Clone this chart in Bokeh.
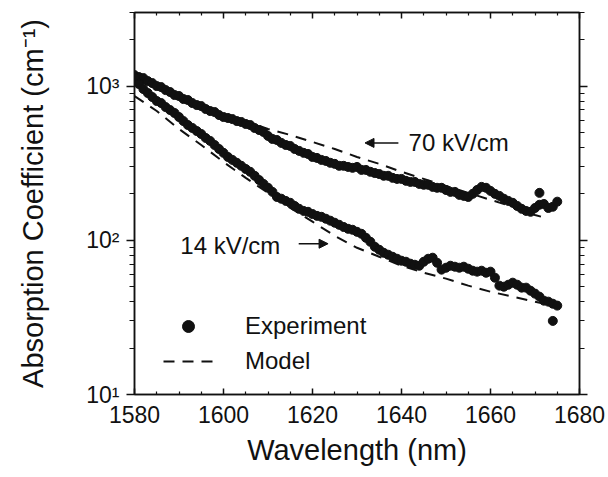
from bokeh.plotting import figure
from bokeh.models import (Range1d, FixedTicker, LinearAxis, LogAxis, Arrow,
                          NormalHead, Legend, LegendItem, Label)
from bokeh.embed import file_html
from bokeh.resources import INLINE

# ---------------- data ----------------
wl_exp = list(range(1580, 1676))

exp_70kv = [1178, 1144, 1127, 1077, 1046, 1000, 985, 942, 915, 875,
            862, 824, 812, 776, 753, 742, 710, 689, 679, 649,
            630, 621, 611, 593, 585, 568, 559, 535, 519, 504,
            475, 454, 447, 428, 415, 409, 391, 380, 369, 363,
            347, 342, 332, 327, 318, 313, 304, 304, 299, 295,
            299, 286, 286, 278, 273, 269, 262, 262, 254, 250,
            250, 243, 239, 239, 232, 229, 229, 222, 219, 219,
            212, 206, 206, 197, 194, 191, 200, 212, 222, 219,
            209, 200, 194, 186, 180, 175, 167, 160, 155, 153,
            162, 170, 172, 162, 165, 178]

exp_14kv = [1144, 1030, 956, 901, 849, 800, 776, 731, 699, 669,
            630, 593, 559, 535, 511, 489, 461, 441, 415, 391,
            369, 347, 332, 318, 304, 290, 278, 262, 246, 232,
            219, 206, 191, 186, 180, 175, 167, 160, 155, 153,
            148, 144, 142, 138, 134, 130, 126, 122, 118.7, 117,
            113.5, 110.2, 103.8, 97.8, 90.8, 86.8, 83.0, 80.6, 78.2, 75.9,
            73.7, 72.6, 70.5, 69.4, 68.4, 72.6, 75.9, 77.1, 71.5, 64.5,
            66.4, 68.4, 67.4, 66.4, 67.4, 65.4, 63.5, 62.6, 63.5, 61.6,
            62.6, 57.2, 50.8, 50.0, 51.5, 53.1, 51.5, 49.3, 49.3, 47.1,
            45.1, 43.1, 40.6, 40.0, 38.8, 37.7]

# isolated outlying experimental points
wl_outlier = [1671, 1674]
outlier_vals = [203, 30]

wl_model = [1580, 1585, 1590, 1595, 1600, 1605, 1610, 1615, 1620, 1625,
            1630, 1635, 1640, 1645, 1650, 1655, 1660, 1665, 1670, 1673]
model_70kv = [1094, 971, 849, 742, 659, 593, 527, 482, 434, 391,
              347, 313, 278, 250, 225, 203, 183, 165, 146, 138]
model_14kv = [862, 689, 527, 415, 322, 254, 203, 162, 132, 106.9,
              89.4, 78.2, 68.4, 61.6, 56.4, 50.8, 46.4, 43.1, 40.0, 38.3]

x_major = [1580, 1600, 1620, 1640, 1660, 1680]
x_minor = [v for v in range(1580, 1681, 5) if v not in x_major]
y_major = [10, 100, 1000]
y_minor = [m * d for d in (10, 100, 1000) for m in range(2, 10) if m * d <= 3000]
y_labels = {10: "10\u00b9", 100: "10\u00b2", 1000: "10\u00b3"}

FONT = "Liberation Sans"
INK = "#111111"

p = figure(width=608, height=477, x_range=Range1d(1580, 1680),
           y_range=Range1d(10, 3000), y_axis_type="log",
           output_backend="svg", toolbar_location=None,
           min_border_left=134, min_border_right=29,
           min_border_top=12, min_border_bottom=83)

p.grid.visible = False
p.outline_line_color = INK
p.outline_line_width = 1.5
p.background_fill_color = "white"
p.border_fill_color = "white"

# bottom axis
xa = p.xaxis[0]
xa.ticker = FixedTicker(ticks=x_major, minor_ticks=x_minor)
xa.major_tick_in = 6
xa.major_tick_out = 0
xa.minor_tick_in = 3
xa.minor_tick_out = 0
xa.axis_label = "Wavelength (nm)"
xa.major_label_standoff = 11
xa.axis_label_standoff = 8

# left axis
ya = p.yaxis[0]
ya.ticker = FixedTicker(ticks=y_major, minor_ticks=y_minor)
ya.major_tick_in = 0
ya.major_tick_out = 8
ya.minor_tick_in = 0
ya.minor_tick_out = 5
ya.major_label_overrides = y_labels
ya.axis_label = "Absorption Coefficient (cm\u207b\u00b9)"
ya.major_label_standoff = 7
ya.axis_label_standoff = 34

# mirrored axes (ticks only, labels not drawn)
top = LinearAxis(ticker=FixedTicker(ticks=x_major, minor_ticks=x_minor),
                 major_tick_in=6, major_tick_out=0, minor_tick_in=3,
                 minor_tick_out=0, major_label_text_font_size="2px",
                 major_label_text_alpha=0, major_label_standoff=0)
p.add_layout(top, "above")
right = LogAxis(ticker=FixedTicker(ticks=y_major, minor_ticks=y_minor),
                major_tick_in=0, major_tick_out=8, minor_tick_in=0,
                minor_tick_out=5, major_label_text_font_size="2px",
                major_label_text_alpha=0, major_label_standoff=0)
p.add_layout(right, "right")

for ax in (xa, ya, top, right):
    ax.axis_line_color = INK
    ax.axis_line_width = 1.5
    ax.major_tick_line_color = INK
    ax.major_tick_line_width = 1.5
    ax.minor_tick_line_color = INK
    ax.minor_tick_line_width = 1.2
    ax.major_label_text_font = FONT
    ax.axis_label_text_font = FONT
    ax.axis_label_text_font_style = "normal"
    ax.axis_label_text_color = INK

for ax in (xa, ya):
    ax.major_label_text_color = INK
    ax.major_label_text_font_size = "23px"
    ax.axis_label_text_font_size = "29px"

# model curves
m70 = p.line(wl_model, model_70kv, line_color=INK, line_width=2, line_dash="11 8")
m14 = p.line(wl_model, model_14kv, line_color=INK, line_width=2, line_dash="11 8")

# experiment
e70 = p.scatter(wl_exp, exp_70kv, size=9, marker="circle", fill_color=INK, line_color=INK)
e14 = p.scatter(wl_exp, exp_14kv, size=9, marker="circle", fill_color=INK, line_color=INK)
p.scatter(wl_outlier, outlier_vals, size=9, marker="circle", fill_color=INK, line_color=INK)

# annotations
p.add_layout(Label(x=1641.6, y=430, text="70 kV/cm", text_align="left",
                   text_baseline="middle", text_font=FONT,
                   text_font_size="24px", text_color=INK))
p.add_layout(Arrow(end=NormalHead(size=9, fill_color=INK, line_color=INK),
                   x_start=1639.3, y_start=428, x_end=1631.8, y_end=428,
                   line_color=INK, line_width=1.5))
p.add_layout(Label(x=1590.3, y=92, text="14 kV/cm", text_align="left",
                   text_baseline="middle", text_font=FONT,
                   text_font_size="24px", text_color=INK))
p.add_layout(Arrow(end=NormalHead(size=9, fill_color=INK, line_color=INK),
                   x_start=1616.9, y_start=95, x_end=1623.5, y_end=95,
                   line_color=INK, line_width=1.5))

legend = Legend(items=[LegendItem(label="Experiment", renderers=[e70]),
                       LegendItem(label="Model", renderers=[m70])],
                location=(29, 18), padding=0, margin=0, spacing=5,
                glyph_width=50, glyph_height=30, label_height=30,
                label_standoff=32, border_line_alpha=0,
                background_fill_alpha=0, label_text_font=FONT,
                label_text_font_size="24px", label_text_color=INK)
p.add_layout(legend)

open("out.html", "w").write(file_html(p, INLINE))
